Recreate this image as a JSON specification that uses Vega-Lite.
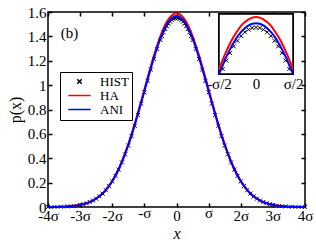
{
  "$schema": "https://vega.github.io/schema/vega-lite/v6.json",
  "width": 257,
  "height": 195,
  "autosize": "none",
  "padding": {"left": 48, "top": 12, "right": 11, "bottom": 37},
  "config": {
    "font": "Liberation Serif",
    "view": {"stroke": "black", "strokeWidth": 1.5},
    "axis": {
      "labelFont": "Liberation Serif",
      "labelFontSize": 15,
      "labelColor": "black",
      "tickColor": "black",
      "tickWidth": 1.5,
      "domain": false,
      "grid": false,
      "labelFlush": false,
      "labelOverlap": false,
      "titleFont": "Liberation Serif",
      "titleFontWeight": "normal",
      "titleColor": "black",
      "titleFontSize": 16
    },
    "legend": {
      "labelFont": "Liberation Serif",
      "labelFontSize": 13,
      "labelColor": "black"
    }
  },
  "data": {
    "values": [
      {"x": -4.0, "HA": 0.001, "ANI": 0.001, "HIST": 0.001},
      {"x": -3.8, "HA": 0.001, "ANI": 0.001, "HIST": 0.001},
      {"x": -3.6, "HA": 0.002, "ANI": 0.002, "HIST": 0.002},
      {"x": -3.4, "HA": 0.005, "ANI": 0.005, "HIST": 0.005},
      {"x": -3.2, "HA": 0.010, "ANI": 0.009, "HIST": 0.009},
      {"x": -3.0, "HA": 0.018, "ANI": 0.017, "HIST": 0.017},
      {"x": -2.9, "HA": 0.024, "ANI": 0.023, "HIST": 0.023},
      {"x": -2.8, "HA": 0.032, "ANI": 0.031, "HIST": 0.031},
      {"x": -2.7, "HA": 0.042, "ANI": 0.041, "HIST": 0.041},
      {"x": -2.6, "HA": 0.054, "ANI": 0.053, "HIST": 0.053},
      {"x": -2.5, "HA": 0.070, "ANI": 0.069, "HIST": 0.068},
      {"x": -2.4, "HA": 0.089, "ANI": 0.088, "HIST": 0.087},
      {"x": -2.3, "HA": 0.113, "ANI": 0.111, "HIST": 0.110},
      {"x": -2.2, "HA": 0.141, "ANI": 0.139, "HIST": 0.138},
      {"x": -2.1, "HA": 0.175, "ANI": 0.173, "HIST": 0.171},
      {"x": -2.0, "HA": 0.215, "ANI": 0.212, "HIST": 0.210},
      {"x": -1.9, "HA": 0.261, "ANI": 0.258, "HIST": 0.255},
      {"x": -1.8, "HA": 0.314, "ANI": 0.310, "HIST": 0.307},
      {"x": -1.7, "HA": 0.375, "ANI": 0.369, "HIST": 0.366},
      {"x": -1.6, "HA": 0.442, "ANI": 0.436, "HIST": 0.432},
      {"x": -1.5, "HA": 0.516, "ANI": 0.509, "HIST": 0.504},
      {"x": -1.4, "HA": 0.596, "ANI": 0.588, "HIST": 0.582},
      {"x": -1.3, "HA": 0.683, "ANI": 0.673, "HIST": 0.667},
      {"x": -1.2, "HA": 0.773, "ANI": 0.763, "HIST": 0.755},
      {"x": -1.1, "HA": 0.868, "ANI": 0.856, "HIST": 0.848},
      {"x": -1.0, "HA": 0.964, "ANI": 0.950, "HIST": 0.941},
      {"x": -0.9, "HA": 1.060, "ANI": 1.045, "HIST": 1.035},
      {"x": -0.8, "HA": 1.154, "ANI": 1.138, "HIST": 1.127},
      {"x": -0.7, "HA": 1.244, "ANI": 1.226, "HIST": 1.215},
      {"x": -0.6, "HA": 1.327, "ANI": 1.309, "HIST": 1.296},
      {"x": -0.5, "HA": 1.402, "ANI": 1.383, "HIST": 1.370},
      {"x": -0.45, "HA": 1.436, "ANI": 1.416, "HIST": 1.403},
      {"x": -0.4, "HA": 1.467, "ANI": 1.447, "HIST": 1.433},
      {"x": -0.35, "HA": 1.495, "ANI": 1.474, "HIST": 1.460},
      {"x": -0.3, "HA": 1.519, "ANI": 1.498, "HIST": 1.484},
      {"x": -0.25, "HA": 1.540, "ANI": 1.519, "HIST": 1.504},
      {"x": -0.2, "HA": 1.558, "ANI": 1.536, "HIST": 1.521},
      {"x": -0.15, "HA": 1.571, "ANI": 1.549, "HIST": 1.535},
      {"x": -0.1, "HA": 1.581, "ANI": 1.559, "HIST": 1.544},
      {"x": -0.05, "HA": 1.587, "ANI": 1.565, "HIST": 1.550},
      {"x": 0.0, "HA": 1.589, "ANI": 1.567, "HIST": 1.552},
      {"x": 0.05, "HA": 1.587, "ANI": 1.565, "HIST": 1.550},
      {"x": 0.1, "HA": 1.581, "ANI": 1.559, "HIST": 1.544},
      {"x": 0.15, "HA": 1.571, "ANI": 1.549, "HIST": 1.535},
      {"x": 0.2, "HA": 1.558, "ANI": 1.536, "HIST": 1.521},
      {"x": 0.25, "HA": 1.540, "ANI": 1.519, "HIST": 1.504},
      {"x": 0.3, "HA": 1.519, "ANI": 1.498, "HIST": 1.484},
      {"x": 0.35, "HA": 1.495, "ANI": 1.474, "HIST": 1.460},
      {"x": 0.4, "HA": 1.467, "ANI": 1.447, "HIST": 1.433},
      {"x": 0.45, "HA": 1.436, "ANI": 1.416, "HIST": 1.403},
      {"x": 0.5, "HA": 1.402, "ANI": 1.383, "HIST": 1.370},
      {"x": 0.6, "HA": 1.327, "ANI": 1.309, "HIST": 1.296},
      {"x": 0.7, "HA": 1.244, "ANI": 1.226, "HIST": 1.215},
      {"x": 0.8, "HA": 1.154, "ANI": 1.138, "HIST": 1.127},
      {"x": 0.9, "HA": 1.060, "ANI": 1.045, "HIST": 1.035},
      {"x": 1.0, "HA": 0.964, "ANI": 0.950, "HIST": 0.941},
      {"x": 1.1, "HA": 0.868, "ANI": 0.856, "HIST": 0.848},
      {"x": 1.2, "HA": 0.773, "ANI": 0.763, "HIST": 0.755},
      {"x": 1.3, "HA": 0.683, "ANI": 0.673, "HIST": 0.667},
      {"x": 1.4, "HA": 0.596, "ANI": 0.588, "HIST": 0.582},
      {"x": 1.5, "HA": 0.516, "ANI": 0.509, "HIST": 0.504},
      {"x": 1.6, "HA": 0.442, "ANI": 0.436, "HIST": 0.432},
      {"x": 1.7, "HA": 0.375, "ANI": 0.369, "HIST": 0.366},
      {"x": 1.8, "HA": 0.314, "ANI": 0.310, "HIST": 0.307},
      {"x": 1.9, "HA": 0.261, "ANI": 0.258, "HIST": 0.255},
      {"x": 2.0, "HA": 0.215, "ANI": 0.212, "HIST": 0.210},
      {"x": 2.1, "HA": 0.175, "ANI": 0.173, "HIST": 0.171},
      {"x": 2.2, "HA": 0.141, "ANI": 0.139, "HIST": 0.138},
      {"x": 2.3, "HA": 0.113, "ANI": 0.111, "HIST": 0.110},
      {"x": 2.4, "HA": 0.089, "ANI": 0.088, "HIST": 0.087},
      {"x": 2.5, "HA": 0.070, "ANI": 0.069, "HIST": 0.068},
      {"x": 2.6, "HA": 0.054, "ANI": 0.053, "HIST": 0.053},
      {"x": 2.7, "HA": 0.042, "ANI": 0.041, "HIST": 0.041},
      {"x": 2.8, "HA": 0.032, "ANI": 0.031, "HIST": 0.031},
      {"x": 2.9, "HA": 0.024, "ANI": 0.023, "HIST": 0.023},
      {"x": 3.0, "HA": 0.018, "ANI": 0.017, "HIST": 0.017},
      {"x": 3.2, "HA": 0.010, "ANI": 0.009, "HIST": 0.009},
      {"x": 3.4, "HA": 0.005, "ANI": 0.005, "HIST": 0.005},
      {"x": 3.6, "HA": 0.002, "ANI": 0.002, "HIST": 0.002},
      {"x": 3.8, "HA": 0.001, "ANI": 0.001, "HIST": 0.001},
      {"x": 4.0, "HA": 0.001, "ANI": 0.001, "HIST": 0.001}
    ]
  },
  "layer": [
    {
      "layer": [
        {
          "transform": [{"fold": ["HIST"], "as": ["series", "p"]}],
          "mark": {"type": "point", "filled": false, "size": 16, "strokeWidth": 1, "opacity": 1},
          "encoding": {
            "x": {"field": "x", "type": "quantitative", "scale": {"domain": [-4, 4], "nice": false},
              "axis": {"orient": "bottom", "values": [-4, -3, -2, -1, 0, 1, 2, 3, 4], "tickSize": -4,
                "labelPadding": {"condition": {"test": "abs(datum.value) == 1", "value": 2}, "value": 5},
                "labelExpr": "datum.value == 0 ? '0' : datum.value == 1 ? 'σ' : datum.value == -1 ? '-σ' : datum.value + 'σ'",
                "title": "x", "titleFontStyle": "italic", "titlePadding": 2}},
            "y": {"field": "p", "type": "quantitative", "scale": {"domain": [0, 1.6], "nice": false},
              "axis": {"orient": "left", "values": [0, 0.2, 0.4, 0.6, 0.8, 1, 1.2, 1.4, 1.6], "tickSize": -4, "labelPadding": 6,
                "format": "~g", "title": "p(x)", "titlePadding": 4}},
            "color": {"field": "series", "type": "nominal",
              "scale": {"domain": ["HIST", "HA", "ANI"], "range": ["black", "red", "blue"]},
              "legend": {"title": null, "orient": "none", "legendX": 12, "legendY": 60,
                "strokeColor": "black", "padding": 3, "rowPadding": 0, "symbolSize": 20,
                "symbolOffset": 10, "labelOffset": 14,
                "encode": {"symbols": {"update": {"strokeWidth": {"signal": "datum.value === 'HIST' ? 1 : 2"}}}}}},
            "shape": {"field": "series", "type": "nominal",
              "scale": {"domain": ["HIST", "HA", "ANI"], "range": ["M-1,-1L1,1M1,-1L-1,1", "M-5,0L5,0", "M-5,0L5,0"]},
              "legend": {"title": null}}
          }
        },
        {
          "transform": [{"fold": ["HA", "ANI"], "as": ["series", "p"]}],
          "mark": {"type": "line", "strokeWidth": 2, "interpolate": "monotone"},
          "encoding": {
            "x": {"field": "x", "type": "quantitative", "axis": {"orient": "top", "labels": false, "tickSize": -4, "title": null, "values": [-4, -3, -2, -1, 0, 1, 2, 3, 4]}},
            "y": {"field": "p", "type": "quantitative", "axis": {"orient": "right", "labels": false, "tickSize": -4, "title": null, "values": [0, 0.2, 0.4, 0.6, 0.8, 1, 1.2, 1.4, 1.6]}},
            "color": {"field": "series", "type": "nominal"}
          }
        },
        {
          "data": {"values": [{"label": "(b)"}]},
          "mark": {"type": "text", "align": "left", "baseline": "middle", "fontSize": 15, "font": "Liberation Serif", "color": "black"},
          "encoding": {
            "x": {"datum": -3.6, "type": "quantitative", "axis": null},
            "y": {"datum": 1.43, "type": "quantitative", "axis": null},
            "text": {"field": "label"}
          }
        }
      ],
      "resolve": {"axis": {"x": "independent", "y": "independent"}}
    },
    {
      "layer": [
        {
          "mark": {"type": "rect", "fill": "white", "stroke": "black", "strokeWidth": 1.5},
          "encoding": {
            "x": {"datum": -0.5, "type": "quantitative", "scale": {"domain": [-0.5, 0.5], "range": [171, 245], "nice": false},
              "axis": {"orient": "bottom", "offset": -133, "values": [-0.5, 0, 0.5], "ticks": false, "labelPadding": 2,
                "labelExpr": "datum.value < 0 ? '-σ/2' : datum.value > 0 ? 'σ/2' : '0'", "title": null}},
            "x2": {"datum": 0.5},
            "y": {"datum": 1.385, "type": "quantitative", "scale": {"domain": [1.385, 1.6], "range": [62, 2], "nice": false, "zero": false, "clamp": true}, "axis": null},
            "y2": {"datum": 1.6}
          }
        },
        {
          "transform": [{"filter": {"field": "x", "range": [-0.45, 0.45]}}, {"fold": ["HIST"], "as": ["series", "p"]}],
          "mark": {"type": "point", "filled": false, "size": 16, "strokeWidth": 1, "opacity": 1},
          "encoding": {
            "x": {"field": "x", "type": "quantitative"},
            "y": {"field": "p", "type": "quantitative"},
            "color": {"field": "series", "type": "nominal"},
            "shape": {"field": "series", "type": "nominal"}
          }
        },
        {
          "transform": [{"filter": {"field": "x", "range": [-0.5, 0.5]}}, {"fold": ["HA", "ANI"], "as": ["series", "p"]}],
          "mark": {"type": "line", "strokeWidth": 2, "interpolate": "monotone"},
          "encoding": {
            "x": {"field": "x", "type": "quantitative"},
            "y": {"field": "p", "type": "quantitative"},
            "color": {"field": "series", "type": "nominal"}
          }
        }
      ]
    }
  ],
  "resolve": {"scale": {"x": "independent", "y": "independent"}}
}
